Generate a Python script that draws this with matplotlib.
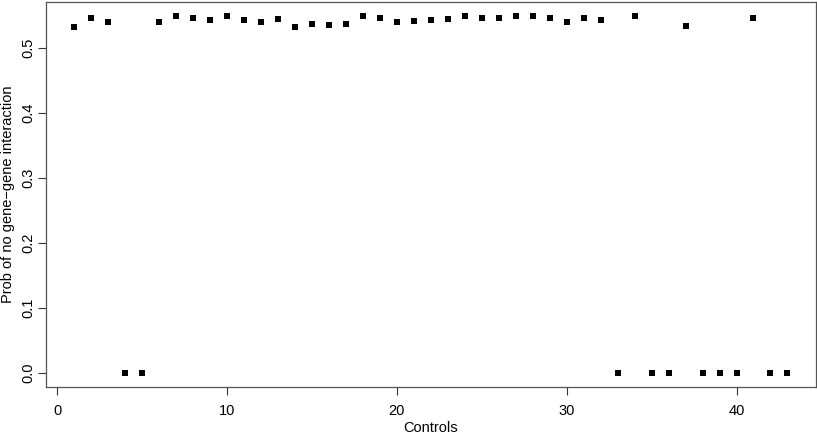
import numpy as np
import matplotlib
matplotlib.use('Agg')
import matplotlib.pyplot as plt

plt.rcParams['font.family'] = ['Liberation Sans', 'DejaVu Sans']

# index of each control and its probability of no gene-gene interaction
controls = np.arange(1, 44)
probs = [0.531, 0.546, 0.539, 0.0, 0.0, 0.540, 0.549, 0.545, 0.542, 0.548,
         0.542, 0.539, 0.544, 0.532, 0.536, 0.535, 0.536, 0.549, 0.546, 0.540,
         0.541, 0.543, 0.544, 0.549, 0.546, 0.545, 0.549, 0.549, 0.545, 0.540,
         0.546, 0.543, 0.0, 0.549, 0.0, 0.0, 0.534, 0.0, 0.0, 0.0,
         0.546, 0.0, 0.0]
x_ticks = [0, 10, 20, 30, 40]
y_ticks = [0.0, 0.1, 0.2, 0.3, 0.4, 0.5]

W, H = 817, 436
fig = plt.figure(figsize=(W / 100, H / 100), dpi=100)
ax = fig.add_axes([45.5 / W, 1 - 387 / H, (816 - 45.5) / W, (387 - 1.5) / H])

ax.plot(controls, probs, 's', color='black', markersize=4.3, markeredgewidth=0)

# R-style 4% padding
xr = controls.max() - controls.min()
ax.set_xlim(controls.min() - 0.04 * xr, controls.max() + 0.04 * xr)
yr = max(probs) - min(probs)
ax.set_ylim(min(probs) - 0.04 * yr, max(probs) + 0.04 * yr)

ax.set_xticks(x_ticks)
ax.set_xticklabels([str(t) for t in x_ticks])
ax.set_yticks(y_ticks)
ax.set_yticklabels([f'{t:.1f}' for t in y_ticks], rotation=90, va='center')
ax.tick_params(direction='out', length=6, width=0.8, labelsize=10.5, color='#333333')
ax.tick_params(axis='x', pad=6)
ax.tick_params(axis='y', pad=1)

for sp in ax.spines.values():
    sp.set_color('#555555')
    sp.set_linewidth(0.9)

fig.text(431 / W, 1 - 428 / H, 'Controls', fontsize=10.5, ha='center', va='center')
fig.text(8 / W, 1 - 194 / H, 'Prob of no gene\u2212gene interaction', fontsize=10.5,
         ha='center', va='center', rotation=90)

fig.savefig('out.png', dpi=100)
